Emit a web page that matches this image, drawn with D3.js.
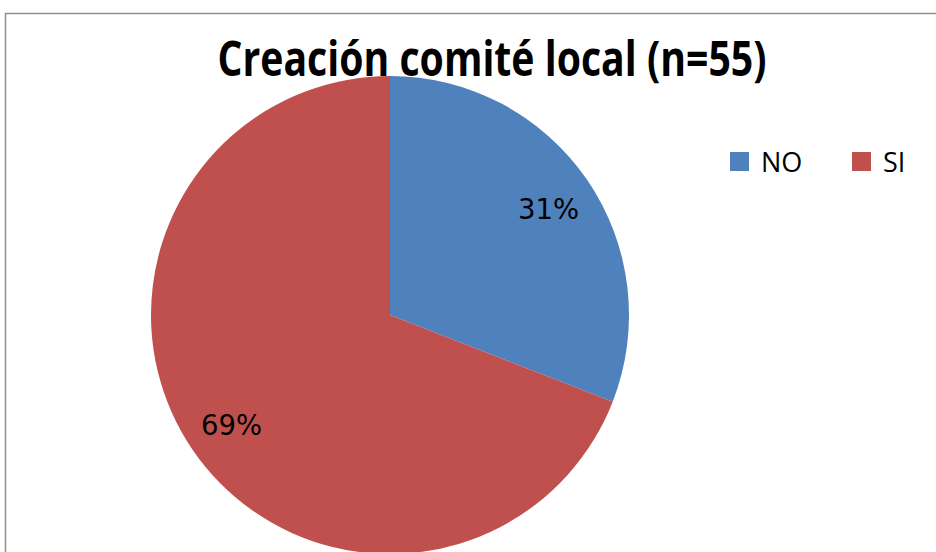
<!DOCTYPE html>
<html><head><meta charset="utf-8">
<script src="https://cdn.jsdelivr.net/npm/d3@7"></script>
<style>html,body{margin:0;padding:0;background:#fff;overflow:hidden}</style>
</head><body>
<script>
const title = "Creación comité local (n=55)";
const categories = ["NO", "SI"];
const counts = [17, 38];
const colors = ["#4F81BD", "#C0504D"];

const W = 936, H = 552;
const svg = d3.select("body").append("svg").attr("width", W).attr("height", H);

svg.append("rect").attr("x", 5.5).attr("y", 13.5).attr("width", W + 20).attr("height", H + 20)
  .attr("fill", "#fff").attr("stroke", "#8e8e8e").attr("stroke-width", 1.5);

svg.append("text").attr("x", 492).attr("y", 76).attr("text-anchor", "middle")
  .attr("font-family", "'Open Sans', sans-serif").attr("font-weight", "bold").attr("font-size", 49)
  .attr("textLength", 549).attr("lengthAdjust", "spacingAndGlyphs")
  .text(title);

const cx = 390, cy = 315, r = 239;
const data = categories.map((c, i) => ({cat: c, v: counts[i], color: colors[i]}));
const total = d3.sum(counts);
const pie = d3.pie().value(d => d.v).sort(null);
const arc = d3.arc().innerRadius(0).outerRadius(r);
const labelArc = d3.arc().innerRadius(192).outerRadius(192);
const g = svg.append("g").attr("transform", `translate(${cx},${cy})`);
const arcs = pie(data);
g.selectAll("path").data(arcs).join("path").attr("d", arc).attr("fill", d => d.data.color);
g.selectAll("text.lbl").data(arcs).join("text").attr("class", "lbl")
  .attr("transform", d => { const c = labelArc.centroid(d); return `translate(${c[0]},${c[1] + 12})`; })
  .attr("text-anchor", "middle")
  .attr("font-family", "'DejaVu Sans', sans-serif").attr("font-size", 28)
  .attr("textLength", 61).attr("lengthAdjust", "spacingAndGlyphs")
  .attr("fill", "#000")
  .text(d => Math.round(d.data.v / total * 100) + "%");

const legX = [730, 852];
const leg = svg.append("g");
data.forEach((d, i) => {
  leg.append("rect").attr("x", legX[i]).attr("y", 152).attr("width", 19).attr("height", 19).attr("fill", d.color);
  leg.append("text").attr("x", legX[i] + 31).attr("y", 172)
    .attr("font-family", "'Open Sans', sans-serif").attr("font-size", 27).attr("fill", "#000")
    .text(d.cat);
});
</script>
</body></html>
